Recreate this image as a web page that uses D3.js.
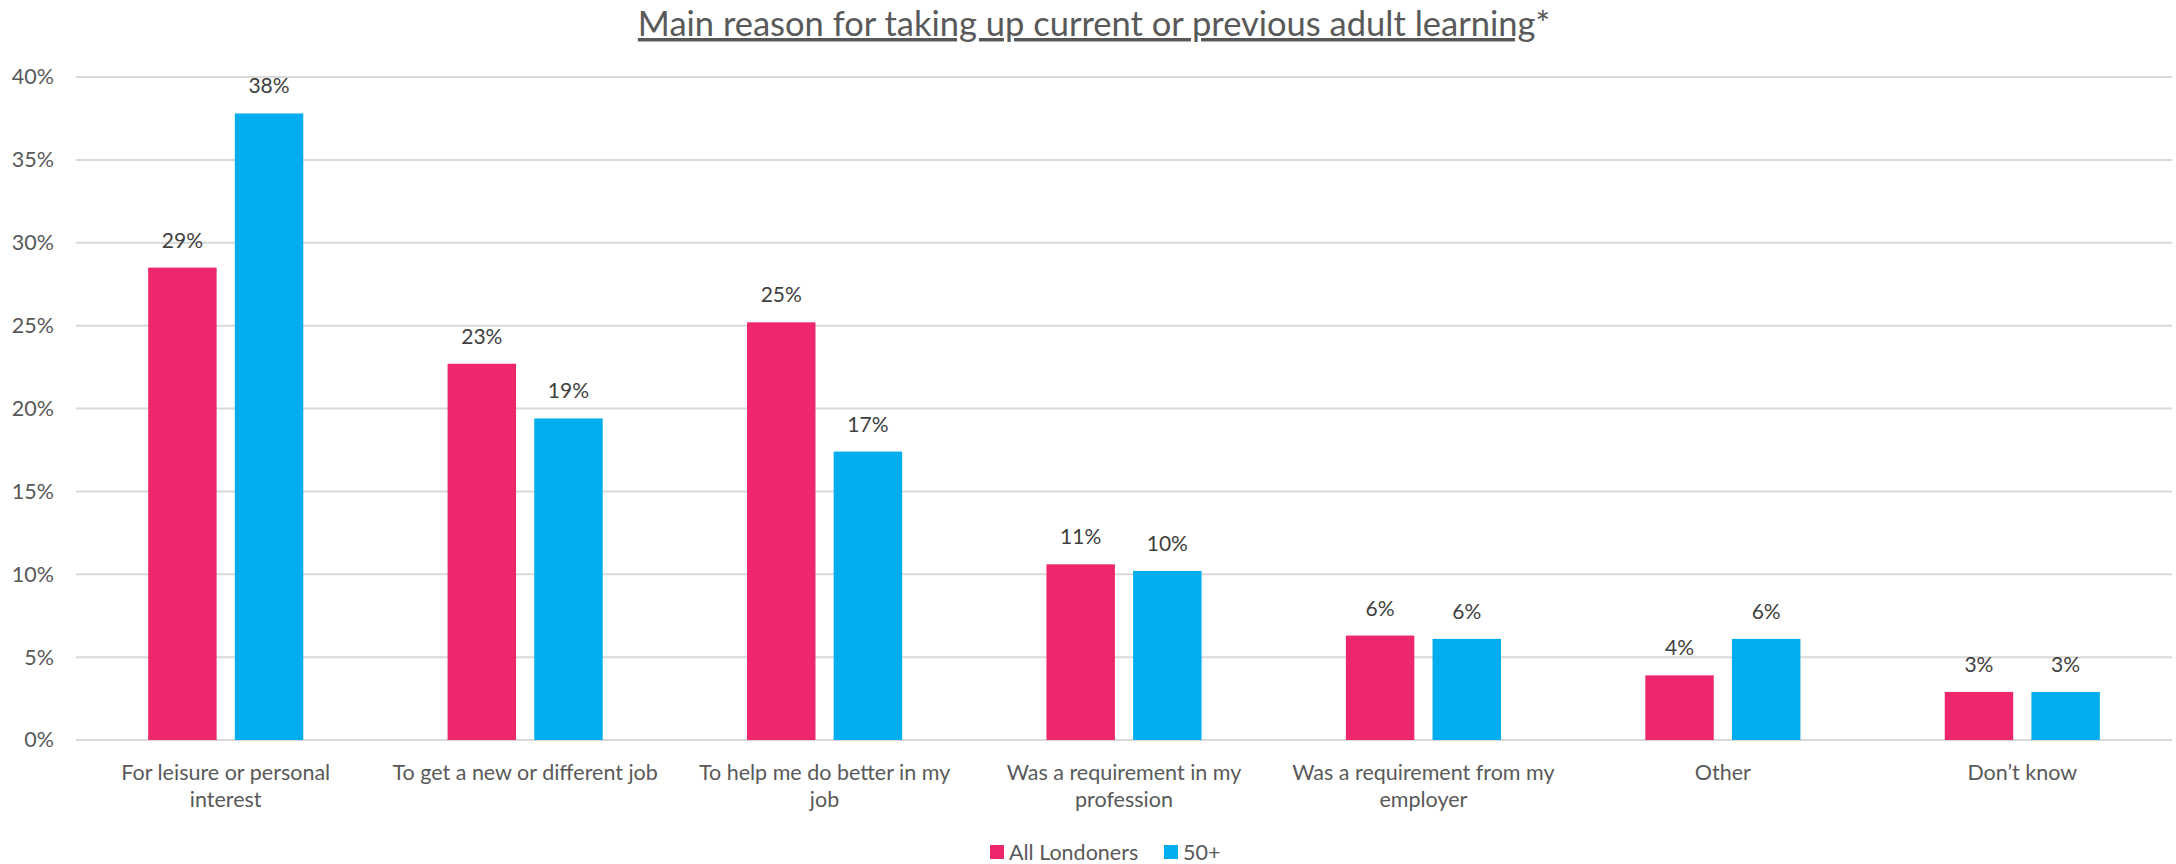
<!DOCTYPE html>
<html><head><meta charset="utf-8">
<script src="https://cdn.jsdelivr.net/npm/d3@7"></script>
<style>body{margin:0;background:#fff;} svg{display:block;font-family:Lato, "Open Sans", sans-serif;}</style>
</head><body>
<svg id="c" width="2176" height="864"></svg>
<script>
const categories = [
  ["For leisure or personal", "interest"],
  ["To get a new or different job"],
  ["To help me do better in my", "job"],
  ["Was a requirement in my", "profession"],
  ["Was a requirement from my", "employer"],
  ["Other"],
  ["Don\u2019t know"]
];
const seriesNames = ["All Londoners", "50+"];
const allLondoners = [28.5, 22.7, 25.2, 10.6, 6.3, 3.9, 2.9];
const over50 = [37.8, 19.4, 17.4, 10.2, 6.1, 6.1, 2.9];
const allLabels = ["29%", "23%", "25%", "11%", "6%", "4%", "3%"];
const over50Labels = ["38%", "19%", "17%", "10%", "6%", "6%", "3%"];
const yTicks = [0, 5, 10, 15, 20, 25, 30, 35, 40];
const colors = ["#EE266D", "#00AEEF"];
const title = "Main reason for taking up current or previous adult learning";

(function () {
const svg = d3.select("#c");
const pLeft = 76, pRight = 2172, pTop = 77, pBottom = 740;
const catKeys = categories.map((d, i) => i);
const x0 = d3.scaleBand().domain(catKeys).range([pLeft, pRight]).paddingInner(0).paddingOuter(0);
const y = d3.scaleLinear().domain([0, 40]).range([pBottom, pTop]);
const groupW = x0.step() * 0.518;
const x1 = d3.scaleBand().domain(seriesNames).range([-groupW / 2, groupW / 2]).paddingInner(0.21);

// gridlines
svg.append("g").selectAll("line").data(yTicks).join("line")
  .attr("x1", pLeft).attr("x2", pRight)
  .attr("y1", d => y(d)).attr("y2", d => y(d))
  .attr("stroke", "#D9D9D9").attr("stroke-width", 2);

// y axis labels
const yAxis = d3.axisLeft(y).tickValues(yTicks).tickFormat(d => d + "%").tickSize(0).tickPadding(0);
const ya = svg.append("g").attr("transform", `translate(54,0)`).call(yAxis);
ya.select(".domain").remove();
ya.selectAll("text").attr("font-size", 21.5).attr("fill", "#595959").attr("font-family", "Lato, sans-serif");

const data = [allLondoners, over50];
const labels = [allLabels, over50Labels];
seriesNames.forEach((s, si) => {
  const g = svg.append("g");
  g.selectAll("rect").data(data[si]).join("rect")
    .attr("x", (d, i) => x0(i) + x0.step() / 2 + x1(s))
    .attr("width", x1.bandwidth())
    .attr("y", d => y(d))
    .attr("height", d => pBottom - y(d))
    .attr("fill", colors[si]);
  g.selectAll("text").data(data[si]).join("text")
    .attr("x", (d, i) => x0(i) + x0.step() / 2 + x1(s) + x1.bandwidth() / 2)
    .attr("y", d => y(d) - 20)
    .attr("text-anchor", "middle")
    .attr("font-size", 21).attr("fill", "#404040")
    .text((d, i) => labels[si][i]);
});

// category labels
const cg = svg.append("g");
categories.forEach((lines, i) => {
  const t = cg.append("text")
    .attr("x", x0(i) + x0.step() / 2)
    .attr("y", 780)
    .attr("text-anchor", "middle")
    .attr("font-size", 21.5).attr("fill", "#595959");
  lines.forEach((l, li) => {
    t.append("tspan").attr("x", x0(i) + x0.step() / 2).attr("dy", li === 0 ? 0 : 27).text(l);
  });
});

// title
const tt = svg.append("text").attr("x", 1094).attr("y", 36)
  .attr("text-anchor", "middle").attr("font-size", 34.5).attr("fill", "#595959");
tt.append("tspan").attr("text-decoration", "underline").text(title);
tt.append("tspan").text("*");

// legend
const legendItems = [{name: seriesNames[0], c: colors[0], x: 990}, {name: seriesNames[1], c: colors[1], x: 1164}];
const lg = svg.append("g");
lg.selectAll("rect").data(legendItems).join("rect")
  .attr("x", d => d.x).attr("y", 845).attr("width", 14).attr("height", 14).attr("fill", d => d.c);
lg.selectAll("text").data(legendItems).join("text")
  .attr("x", d => d.x + 19).attr("y", 860)
  .attr("font-size", 21.5).attr("fill", "#595959").text(d => d.name);
})();
</script>
</body></html>
